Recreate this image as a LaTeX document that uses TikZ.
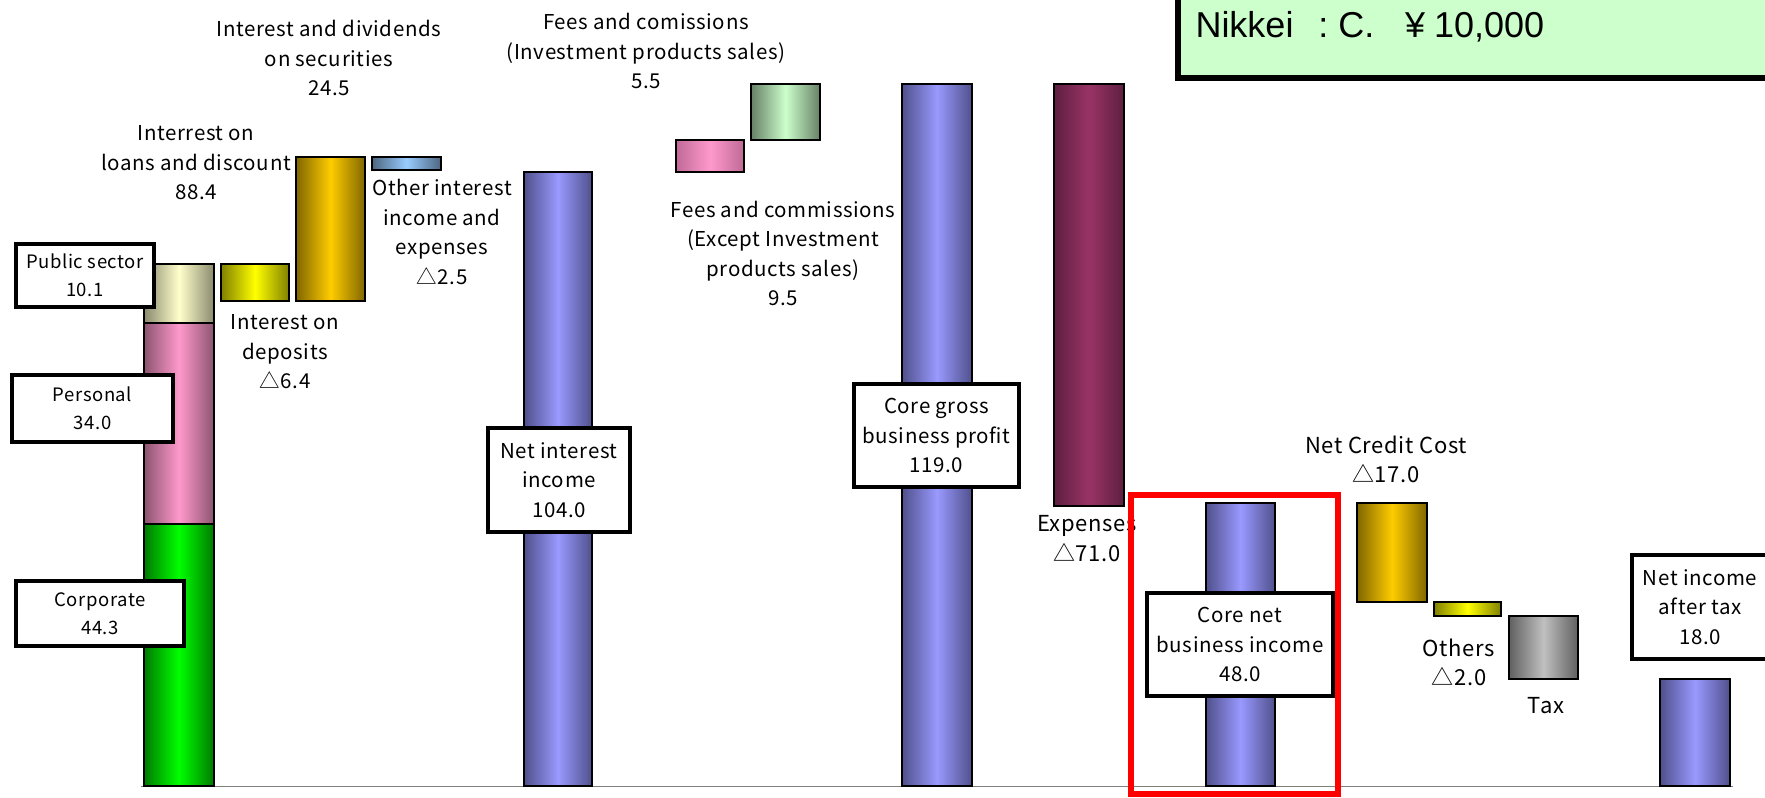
\documentclass[tikz,border=0pt]{standalone}
\usepackage{fontspec}
\setmainfont{Noto Sans CJK JP}[LetterSpace=3]
\newfontfamily\titlefont{Liberation Sans}
\definecolor{blueL}{HTML}{9999FF}
\definecolor{blueD}{HTML}{50508C}
\definecolor{pubL}{HTML}{FFFFCC}
\definecolor{pubD}{HTML}{8A8A6E}
\definecolor{perL}{HTML}{FF99CC}
\definecolor{perD}{HTML}{8C5470}
\definecolor{corL}{HTML}{00FF00}
\definecolor{corD}{HTML}{007A00}
\definecolor{yelL}{HTML}{FFFF00}
\definecolor{yelD}{HTML}{808000}
\definecolor{golL}{HTML}{FFCC00}
\definecolor{golD}{HTML}{806600}
\definecolor{oblL}{HTML}{99CCFF}
\definecolor{oblD}{HTML}{4D6680}
\definecolor{fpkL}{HTML}{FF99CC}
\definecolor{fpkD}{HTML}{C06A96}
\definecolor{fgrL}{HTML}{CCFFCC}
\definecolor{fgrD}{HTML}{668066}
\definecolor{expL}{HTML}{993366}
\definecolor{expD}{HTML}{5E1F40}
\definecolor{taxL}{HTML}{C0C0C0}
\definecolor{taxD}{HTML}{606060}
\definecolor{titleBG}{HTML}{CCFFCC}
\tikzset{
  bar/.style n args={2}{draw=black, line width=1.5pt, left color=#2, right color=#2, middle color=#1},
  lbl/.style={font=\fontsize{20.5}{29.5}\selectfont, align=center, inner sep=0pt},
  biglbl/.style={lbl, font=\fontsize{22}{29.5}\selectfont},
  boxlbl/.style={draw=black, line width=4pt, fill=white, font=\fontsize{20.5}{29.5}\selectfont, align=center, inner sep=0pt},
  smallbox/.style={boxlbl, font=\fontsize{18.5}{27.5}\selectfont}
}
\begin{document}
\begin{tikzpicture}[x=1pt, y=-1pt]
\useasboundingbox (0,0) rectangle (1765,798);
% axis
\draw[line width=1.5pt, gray] (141,786.5) -- (1733,786.5);
% bars
\shadedraw[bar={corL}{corD}] (144,524) rectangle (214,786);
\shadedraw[bar={perL}{perD}] (144,323) rectangle (214,524);
\shadedraw[bar={pubL}{pubD}] (144,264) rectangle (214,323);
\shadedraw[bar={yelL}{yelD}] (221,264) rectangle (289,301);
\shadedraw[bar={golL}{golD}] (296,157) rectangle (365,301);
\shadedraw[bar={oblL}{oblD}] (372,157) rectangle (441,170);
\shadedraw[bar={blueL}{blueD}] (524,172) rectangle (592,786);
\shadedraw[bar={fpkL}{fpkD}] (676,140) rectangle (744,172);
\shadedraw[bar={fgrL}{fgrD}] (751,84) rectangle (820,140);
\shadedraw[bar={blueL}{blueD}] (902,84) rectangle (972,786);
\shadedraw[bar={expL}{expD}] (1054,84) rectangle (1124,506);
\shadedraw[bar={blueL}{blueD}] (1206,503) rectangle (1275,786);
\shadedraw[bar={golL}{golD}] (1357,503) rectangle (1427,602);
\shadedraw[bar={yelL}{yelD}] (1434,602) rectangle (1501,616);
\shadedraw[bar={taxL}{taxD}] (1509,616) rectangle (1578,679);
\shadedraw[bar={blueL}{blueD}] (1660,679) rectangle (1730,786);
% floating labels
\node[lbl] (sec) at (329,58) {Interest and dividends\\on securities\\24.5};
\node[lbl] (loan) at (196,163) {Interrest on\\loans and discount\\88.4};
\node[lbl] (oth) at (442,232) {Other interest\\income and\\expenses\\△2.5};
\node[lbl] (dep) at (285,352) {Interest on\\deposits\\△6.4};
\node[lbl] (fee1) at (646,51) {Fees and comissions\\(Investment products sales)\\5.5};
\node[lbl] (fee2) at (783,253.5) {Fees and commissions\\(Except Investment\\products sales)\\9.5};
\node[biglbl] (exp) at (1087,538.5) {Expenses\\△71.0};
\node[biglbl] (ncc) at (1386,459.5) {Net Credit Cost\\△17.0};
\node[biglbl] (others) at (1459,662.5) {Others\\△2.0};
\node[biglbl] (tax) at (1546,706) {Tax};
% boxed labels
\node[smallbox, minimum width=138pt, minimum height=63pt] (pub) at (85,275.5) {Public sector\\10.1};
\node[smallbox, minimum width=161pt, minimum height=67pt] (per) at (92.5,408.5) {Personal\\34.0};
\node[smallbox, minimum width=168pt, minimum height=65pt] (cor) at (100,613.5) {Corporate\\44.3};
\node[boxlbl, minimum width=142pt, minimum height=104pt] (nii) at (559,480) {Net interest\\income\\104.0};
\node[boxlbl, minimum width=165pt, minimum height=103pt] (cgb) at (936.5,435.5) {Core gross\\business profit\\119.0};
\node[boxlbl, minimum width=186pt, minimum height=103pt] (cnb) at (1240,644.5) {Core net\\business income\\48.0};
\node[boxlbl, minimum width=136pt, minimum height=104pt] (nia) at (1700,607) {Net income\\after tax\\18.0};
% highlight
\draw[red, line width=6pt] (1131,495) rectangle (1338,794);
% title
\filldraw[fill=titleBG, draw=black, line width=6pt] (1178,-10) rectangle (1785,78);
\node[anchor=base west, inner sep=0pt, font=\titlefont\fontsize{36}{40}\selectfont] (title) at (1195.3,37) {Nikkei\hspace{25pt}:\hspace{9.8pt}C.\hspace{30.8pt}¥\hspace{9pt}10,000};
\end{tikzpicture}
\end{document}
